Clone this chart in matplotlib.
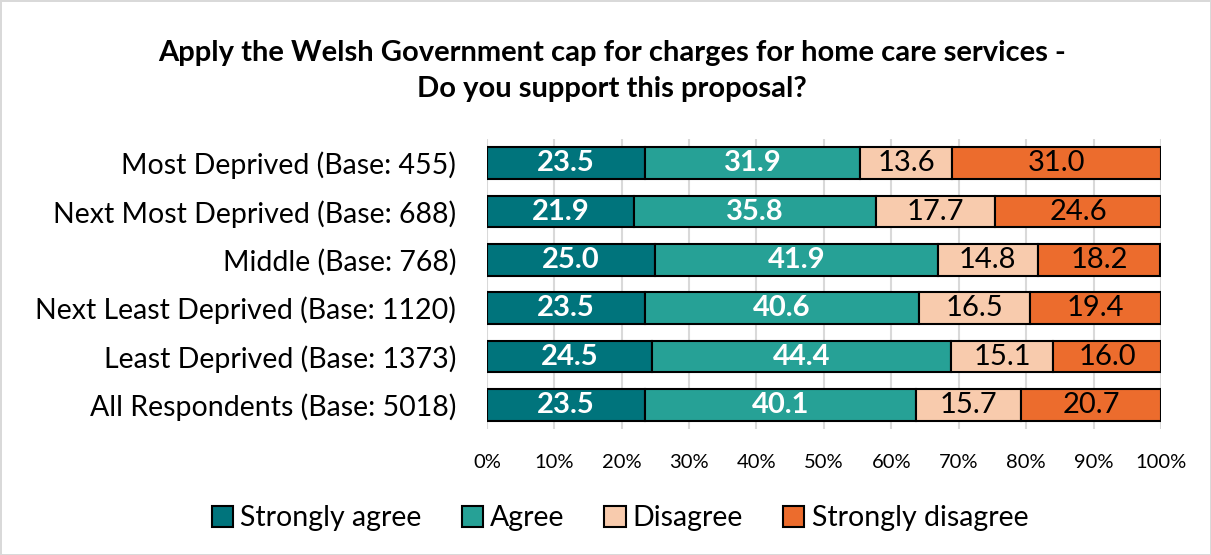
import matplotlib.pyplot as plt
import numpy as np

plt.rcParams['font.family'] = ['Lato', 'DejaVu Sans']

groups = ["Most Deprived (Base: 455)", "Next Most Deprived (Base: 688)",
          "Middle (Base: 768)", "Next Least Deprived (Base: 1120)",
          "Least Deprived (Base: 1373)", "All Respondents (Base: 5018)"]
strongly_agree = [23.5, 21.9, 25.0, 23.5, 24.5, 23.5]
agree = [31.9, 35.8, 41.9, 40.6, 44.4, 40.1]
disagree = [13.6, 17.7, 14.8, 16.5, 15.1, 15.7]
strongly_disagree = [31.0, 24.6, 18.2, 19.4, 16.0, 20.7]

series = [("Strongly agree", strongly_agree, "#00747C", "white", "bold"),
          ("Agree", agree, "#26A196", "white", "bold"),
          ("Disagree", disagree, "#F8CBAD", "black", "normal"),
          ("Strongly disagree", strongly_disagree, "#EC6C2D", "black", "normal")]

fig = plt.figure(figsize=(12.11, 5.55), dpi=100)
fig.patch.set_edgecolor("#D9D9D9")
fig.patch.set_linewidth(2)
ax = fig.add_axes([0.402, 0.227, 0.5567, 0.5225])

y = np.arange(len(groups))
left = np.zeros(len(groups))
for name, vals, col, tcol, tw in series:
    vals = np.array(vals)
    bars = ax.barh(y, vals, left=left, height=0.66, color=col, edgecolor="black",
                   linewidth=1.5, label=name, zorder=3)
    for b, v in zip(bars, vals):
        ax.text(b.get_x() + b.get_width() / 2, b.get_y() + b.get_height() / 2,
                f"{v:.1f}", ha="center", va="center", color=tcol,
                fontsize=21, fontweight=tw, zorder=4)
    left += vals

ax.set_xlim(0, 100)
ax.set_ylim(len(groups) - 0.5, -0.5)
ax.set_yticks(y)
ax.set_yticklabels(groups, fontsize=20.5)
ax.set_xticks(np.arange(0, 101, 10))
ax.set_xticklabels([f"{t}%" for t in range(0, 101, 10)], fontsize=14.5)
ax.tick_params(length=0, axis="both")
ax.tick_params(axis="y", pad=22)
ax.tick_params(axis="x", pad=18)
ax.grid(axis="x", color="#D9D9D9", linewidth=1.5, zorder=0)
for s in ax.spines.values():
    s.set_visible(False)

fig.text(0.505, 0.905, "Apply the Welsh Government cap for charges for home care services -",
         ha="center", va="center", fontsize=21, fontweight="bold")
fig.text(0.505, 0.84, "Do you support this proposal?",
         ha="center", va="center", fontsize=21, fontweight="bold")

fig.legend(loc="center", bbox_to_anchor=(0.512, 0.066), ncol=4, frameon=False,
           fontsize=20.5, handlelength=0.75, handleheight=0.75, handletextpad=0.25,
           columnspacing=1.4)

fig.savefig("out.png", dpi=100)
